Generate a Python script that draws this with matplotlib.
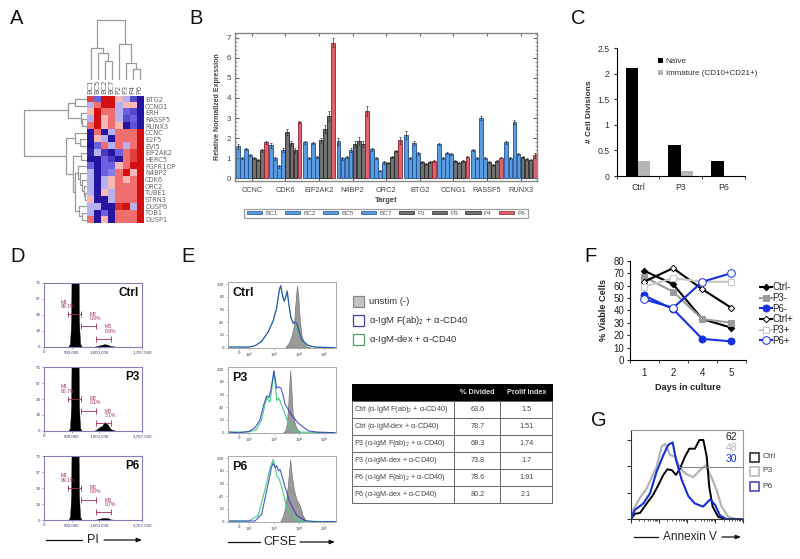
import matplotlib
matplotlib.use("Agg")
import matplotlib.pyplot as plt
from matplotlib.colors import LinearSegmentedColormap
from matplotlib.patches import Patch, Rectangle

plt.rcParams['font.family'] = ['Liberation Sans', 'DejaVu Sans']
plt.rcParams['mathtext.default'] = 'regular'
plt.rcParams['axes.unicode_minus'] = False

W, H = 800, 559

# ---------- Panel A data
heat_cols = ['BC1', 'BC5', 'BC2', 'BC7', 'P2', 'P3', 'P4', 'P6']
heat_rows = ['BTG2', 'CCNG1', 'ERH', 'RASSF5', 'RUNX3', 'CCNC', 'E2F5', 'EVI5', 'EIF2AK2', 'HERC5',
             'FGFR1OP', 'N4BP2', 'CDK6', 'ORC2', 'TUBE1', 'STRN3', 'DUSP6', 'TOB1', 'DUSP1']
heat_vals = [
    [1.5, -1.0, 2, 2, .5, -.5, -1.3, -2],
    [-.5, 1, 2, 2, -.5, .5, .5, -2],
    [.5, 2, 1, 1, -.5, -1, -1.3, -2],
    [-.5, 2, .5, 1, -.5, -1.3, -1, -2],
    [1, 2, .5, 1, .5, -2, -1.2, -2],
    [-2, 1, -2, -.5, 1, 1, 1, 2],
    [-2, .5, -.5, -2, 1, 1, 1, 2],
    [-2, -1, 1, -.5, 1, -.5, 1, 2],
    [-1.8, -.5, -1.5, -2, -1, 1, 1.5, 2],
    [-2, -2, -1, -1.5, -2, 1, 1.5, 2],
    [-1, -2, -1, -1, .5, 1, 2, 2],
    [-.5, -2, -1, -.8, 1, 2, .5, 2],
    [-.5, -2, -.5, .5, 1, .5, 1, 2],
    [-.5, -2, -.5, .5, 1, 1, 1, 2],
    [-.5, -2, .5, -.5, 1, 1, 1, 2],
    [.5, -2, -2, -.5, 1, 1, 1, 2],
    [-.5, -.5, -2, -2, 1.7, 2, -.5, 2],
    [-.5, -2, -1, -2, 1, 1, 1, 2],
    [1, -2, .5, -2, 1, 1, 1, 2],
]
# dendrograms: (height, left, right), leaves are indices
col_tree = (60, (32, 0, (27, 1, (19, 2, 3))), (36, 4, (17, 5, (11, 6, 7))))
row_tree = (63,
            (19, (12, 0, 1), (6, 2, (5, 3, 4))),
            (21, (12, 5, (7, 6, 7)),
             (14, (6, 8, 9),
              (12, (9, 10, (7, 11, (5, 12, (3, 13, (2, 14, 15))))),
               (8, 16, (5, 17, 18))))))

# ---------- Panel B data
targets = ['CCNC', 'CDK6', 'EIF2AK2', 'N4BP2', 'ORC2', 'BTG2', 'CCNG1', 'RASSF5', 'RUNX3']
samples = ['BC1', 'BC2', 'BC5', 'BC7', 'P1', 'P3', 'P4', 'P6']
expr = [
    [1.6, 1.0, 1.45, 1.15, 1.0, .9, 1.4, 1.8],
    [1.65, 1.0, .6, 1.4, 2.3, 1.75, 1.4, 2.8],
    [1.8, 1.0, 1.78, 1.05, 1.9, 2.45, 3.1, 6.75],
    [1.85, 1.0, 1.05, 1.4, 1.7, 1.85, 1.7, 3.35],
    [1.45, 1.0, .38, .8, .78, 1.05, 1.35, 1.9],
    [2.15, 1.0, 1.75, 1.25, .82, .7, .8, .85],
    [1.7, 1.0, 1.25, 1.2, .85, .78, .88, 1.08],
    [1.4, 1.0, 3.0, 1.0, .82, .65, .85, 1.02],
    [1.8, 1.0, 2.8, 1.2, 1.05, .98, .93, 1.15],
]
expr_err = [
    [.12, .05, .06, .05, .05, .05, .08, .08],
    [.12, .07, .07, .1, .15, .12, .12, .06],
    [.08, .05, .05, .05, .12, .18, .25, .22],
    [.17, .07, .05, .1, .15, .2, .15, .25],
    [.08, .05, .03, .07, .05, .06, .06, .18],
    [.18, .06, .1, .07, .05, .04, .05, .04],
    [.06, .05, .05, .05, .04, .04, .05, .03],
    [.06, .05, .12, .05, .05, .04, .05, .03],
    [.08, .05, .1, .06, .05, .05, .04, .12],
]

# ---------- Panel C data
c_groups = ['Ctrl', 'P3', 'P6']
c_naive = [2.1, 0.6, 0.3]
c_immature = [0.3, 0.1, 0.0]

# ---------- Panel D data
d_names = ['Ctrl', 'P3', 'P6']
d_x = [0, 440e3, 470e3, 490e3, 500e3, 620e3, 630e3, 650e3, 680e3, 900e3, 960e3, 1000e3, 1050e3, 1090e3, 1150e3, 1200e3,
       1300e3, 1767550]
d_hist = [
    [0, 0, 5, 40, 150, 150, 40, 5, 0, 0, 1, 2, 3, 4, 3, 1, 0, 0],
    [0, 0, 5, 40, 150, 150, 40, 5, 0, 0, 3, 6, 8, 14, 10, 3, 0, 0],
    [0, 0, 5, 40, 150, 150, 40, 5, 0, 0, 1, 2, 3, 3, 3, 1, 0, 0],
]
d_gates = {'M1': (424e3, 675e3), 'M2': (675e3, 943e3), 'M3': (943e3, 1212e3)}
d_gate_y = [50.5, 32, 12]
d_pct = [['99.1%', '0.0%', '0.9%'], ['96.7%', '0.1%', '3.1%'], ['99.1%', '0.0%', '0.7%']]
d_xticks = [0, 500000, 1000000, 1767550]
d_xlabels = ['0', '500,000', '1,000,000', '1,767,550']
d_yticks = [0, 25, 50, 75, 100]
d_ylabels = ['0', '19', '38', '57', '76']

# ---------- Panel E data
e_names = ['Ctrl', 'P3', 'P6']
e_grey_x = [[3.45, 3.6, 3.7, 3.8, 3.87, 3.92, 3.97, 4.03, 4.1, 4.2, 4.3, 4.5],
            [3.35, 3.45, 3.52, 3.58, 3.65, 3.7, 3.75, 3.85, 3.95, 4.1],
            [3.25, 3.35, 3.45, 3.55, 3.65, 3.72, 3.8, 3.9, 4.04, 4.15, 4.3]]
e_grey_y = [[0, 8, 18, 35, 75, 97, 82, 45, 20, 8, 2, 0],
            [0, 3, 15, 50, 98, 65, 30, 12, 4, 0],
            [0, 8, 22, 55, 98, 70, 50, 35, 25, 10, 0]]
e_blue_x = [[1.2, 2.0, 2.24, 2.51, 2.77, 2.97, 3.11, 3.22, 3.28, 3.35, 3.41, 3.47, 3.53, 3.6, 3.68, 3.76, 3.84, 3.92, 3.97, 4.11, 4.37, 4.64, 5.44],
            [1.2, 1.6, 2.0, 2.24, 2.44, 2.6, 2.71, 2.8, 2.88, 3.0, 3.11, 3.2, 3.28, 3.36, 3.44, 3.7, 3.97, 4.37, 4.7, 5.44],
            [1.2, 2.0, 2.24, 2.51, 2.77, 2.9, 2.97, 3.05, 3.11, 3.18, 3.24, 3.3, 3.44, 3.64, 3.91, 4.24, 4.6, 5.44]]
e_blue_y = [[1, 1, 3, 10, 25, 42, 62, 92, 98, 80, 74, 80, 88, 68, 48, 38, 40, 38, 30, 12, 4, 1, 0],
            [1, 0, 2, 8, 20, 45, 58, 55, 68, 97, 70, 72, 70, 60, 45, 28, 15, 3, 1, 0],
            [1, 1, 1, 12, 60, 85, 92, 85, 88, 80, 82, 75, 55, 30, 10, 2, 0, 0]]
e_green_x = [[1.2, 2.0, 2.24, 2.51, 2.77, 2.97, 3.11, 3.2, 3.25, 3.3, 3.41, 3.47, 3.53, 3.6, 3.68, 3.84, 3.97, 4.11, 4.37, 4.64, 5.44],
             [1.2, 2.0, 2.3, 2.5, 2.71, 2.84, 2.92, 3.0, 3.11, 3.18, 3.24, 3.44, 3.57, 3.77, 4.0, 5.44],
             [1.2, 2.0, 2.37, 2.64, 2.85, 2.97, 3.05, 3.11, 3.2, 3.31, 3.51, 3.71, 3.98, 5.44]]
e_green_y = [[1, 1, 3, 10, 25, 43, 64, 88, 95, 90, 72, 78, 90, 66, 46, 38, 22, 12, 3, 1, 0],
             [1, 1, 5, 20, 55, 48, 70, 97, 50, 55, 50, 30, 15, 5, 1, 0],
             [1, 1, 10, 50, 85, 98, 85, 72, 68, 55, 22, 8, 1, 0]]
e_xticks = [1.6, 2, 3, 4, 5]
e_xlabels = ['0', '$10^2$', '$10^3$', '$10^4$', '$10^5$']
e_yticks = [0, 20, 40, 60, 80, 100]
e_legend = ['unstim (-)', r'$\alpha$-IgM F(ab)$_2$ + $\alpha$-CD40', r'$\alpha$-IgM-dex + $\alpha$-CD40']

# Table
table_head = ['', '% Divided', 'Prolif Index']
table_rows = [r'Ctrl ($\alpha$-IgM F(ab)$_2$ + $\alpha$-CD40)', r'Ctrl ($\alpha$-IgM-dex + $\alpha$-CD40)',
              r'P3 ($\alpha$-IgM F(ab)$_2$ + $\alpha$-CD40)', r'P3 ($\alpha$-IgM-dex + $\alpha$-CD40)',
              r'P6 ($\alpha$-IgM F(ab)$_2$ + $\alpha$-CD40)', r'P6 ($\alpha$-IgM-dex + $\alpha$-CD40)']
table_div = ['63.6', '78.7', '68.3', '73.8', '78.6', '80.2']
table_pi = ['1.5', '1.51', '1.74', '1.7', '1.91', '2.1']

# ---------- Panel F data
f_days = ['1', '2', '4', '5']
f_ctrl_m = [72, 61, 33, 26]
f_p3_m = [67, 55, 33, 30]
f_p6_m = [52, 41, 17, 15]
f_ctrl_p = [63, 74, 57, 42]
f_p3_p = [59, 66, 63, 63]
f_p6_p = [49, 42, 63, 70]

# ---------- Panel G data
g_ctrl_x = [0, .15, .33, .57, .80, .98, 1.16, 1.30, 1.46, 1.61, 1.75, 1.93, 2.08, 2.28, 2.44, 2.58, 2.70, 2.79, 2.91, 3.11, 3.41, 4]
g_ctrl_y = [0, 7, 8, 20, 31, 43, 56, 63, 62, 56, 64, 79, 89, 89, 100, 100, 79, 41, 16, 3, 0, 0]
g_p3_x = [0, .09, .33, .57, .75, .92, 1.10, 1.22, 1.40, 1.58, 1.73, 1.93, 2.22, 2.46, 2.67, 2.88, 3.05, 3.23, 3.47, 3.76, 4]
g_p3_y = [0, 12, 27, 39, 53, 66, 92, 95, 81, 79, 66, 58, 53, 62, 68, 52, 37, 16, 3, 0, 0]
g_p6_x = [0, .15, .45, .69, .92, 1.16, 1.34, 1.49, 1.61, 1.81, 2.05, 2.28, 2.57, 2.82, 3.0, 3.17, 3.41, 4]
g_p6_y = [0, 12, 20, 33, 60, 81, 94, 97, 75, 50, 29, 20, 16, 25, 18, 5, 0, 0]
g_names = ['Ctrl', 'P3', 'P6']
g_vals = ['62', '48', '30']

fig = plt.figure(figsize=(W / 100, H / 100), dpi=100, facecolor='white')


def axpx(x0, y0, x1, y1, **kw):
    return fig.add_axes([x0 / W, 1 - y1 / H, (x1 - x0) / W, (y1 - y0) / H], **kw)


ov = fig.add_axes([0, 0, 1, 1], zorder=20)
ov.set_xlim(0, W)
ov.set_ylim(H, 0)
ov.axis('off')
ov.patch.set_alpha(0)

for letter, x, y in [('A', 10, 19), ('B', 189, 19), ('C', 571, 18), ('D', 10, 256), ('E', 181, 256), ('F', 584, 256),
                     ('G', 591, 420)]:
    ov.text(x, y, letter, fontsize=14.5, ha='left', va='center', color='#111111')


# ===== A
cmap = LinearSegmentedColormap.from_list('bwr2', ['#2414a0', '#6a60e0', '#ffffff', '#f27070', '#d40f0f'])
axA = axpx(87, 96, 143, 223)
axA.imshow(heat_vals, cmap=cmap, vmin=-2, vmax=2, aspect='auto', interpolation='nearest')
axA.set_xticks(range(len(heat_cols)))
axA.set_xticklabels(heat_cols, rotation=90, fontsize=5.3, color='#666666', family='DejaVu Sans')
axA.set_yticks(range(len(heat_rows)))
axA.set_yticklabels(heat_rows, fontsize=4.8, color='#666666', family='DejaVu Sans')
axA.xaxis.tick_top()
axA.yaxis.tick_right()
axA.tick_params(length=0, pad=1.5)
for s in axA.spines.values():
    s.set_visible(False)

axTop = axpx(87, 18, 143, 80)
axTop.set_xlim(-.5, 7.5)
axTop.set_ylim(0, 62)
axTop.axis('off')
axLeft = axpx(22, 96, 87, 223)
axLeft.set_xlim(65, 0)
axLeft.set_ylim(18.5, -.5)
axLeft.axis('off')


def draw_tree(node, ax, vertical):
    if isinstance(node, int):
        return node, 0
    h, a, b = node
    pa, ha = draw_tree(a, ax, vertical)
    pb, hb = draw_tree(b, ax, vertical)
    xs, ys = [pa, pa, pb, pb], [ha, h, h, hb]
    if vertical:
        ax.plot(xs, ys, color='#9a9a9a', lw=.9, solid_capstyle='butt')
    else:
        ax.plot(ys, xs, color='#9a9a9a', lw=.9, solid_capstyle='butt')
    return (pa + pb) / 2, h


draw_tree(col_tree, axTop, True)
draw_tree(row_tree, axLeft, False)

# ===== B
axB = axpx(235, 32.7, 537.3, 181)
bar_w = .96 / 8
face = ['#5b9bdf'] * 4 + ['#727272'] * 3 + ['#e2626c']
edge = ['#1d4f90'] * 4 + ['#222222'] * 3 + ['#8a2432']
for g, (vals, errs) in enumerate(zip(expr, expr_err)):
    for j, (v, e) in enumerate(zip(vals, errs)):
        xp = g + .02 + bar_w * (j + .5)
        axB.bar(xp, v, bar_w * .95, color=face[j], edgecolor=edge[j], lw=.6)
        axB.errorbar(xp, v, yerr=e, color='#333333', lw=.5, capsize=1, capthick=.5)
axB.set_xlim(0, 9)
axB.set_ylim(-.13, 7.24)
axB.set_xticks([i + .5 for i in range(9)])
axB.set_xticklabels(targets, fontsize=5.3, color='#444444')
axB.set_yticks(range(8))
axB.set_yticks([i / 5 for i in range(37)], minor=True)
axB.tick_params(axis='y', which='major', labelsize=5.8, labelcolor='#444444', length=3, direction='in', right=True,
                color='#666666', pad=3)
axB.tick_params(axis='y', which='minor', length=1.5, direction='in', right=True, color='#888888')
axB.tick_params(axis='x', length=2.5, direction='in', top=True, color='#666666', pad=4)
for s in axB.spines.values():
    s.set_color('#888888')
    s.set_linewidth(1)
axB.set_xlabel('Target', fontsize=5.5, fontweight='bold', color='#444444', labelpad=2.5)
axB.set_ylabel('Relative Normalized Expression', fontsize=5, fontweight='bold', color='#444444', labelpad=4)
handles = [Patch(facecolor=face[j], edgecolor=edge[j], lw=.5, label=samples[j]) for j in range(8)]
leg = axB.legend(handles=handles, ncol=8, fontsize=4.6, loc='center', bbox_to_anchor=(386, 213.5),
                 bbox_transform=ov.transData, frameon=True, fancybox=False, edgecolor='#888888', borderpad=.35,
                 handlelength=2.4, handleheight=.45, columnspacing=1.1, handletextpad=.5, labelcolor='#555555')
leg.get_frame().set_linewidth(.9)

# ===== C
axC = axpx(616.7, 48, 745, 176)
cx = range(len(c_groups))
bw = .29
axC.bar([i - bw / 2 for i in cx], c_naive, bw, color='black', label='Naïve')
axC.bar([i + bw / 2 for i in cx], c_immature, bw, color='#b5b5b5', label='Immature (CD10+CD21+)')
axC.set_xlim(-.5, 2.5)
axC.set_ylim(0, 2.5)
axC.set_xticks(list(cx))
axC.set_xticklabels(c_groups, fontsize=6.3, color='#333333')
axC.set_xticks([-.5, .5, 1.5, 2.5], minor=True)
axC.tick_params(axis='x', which='major', length=0, pad=5)
axC.tick_params(axis='x', which='minor', length=2, direction='out', color='#222222')
axC.set_yticks([0, .5, 1, 1.5, 2, 2.5])
axC.set_yticklabels(['0', '0.5', '1', '1.5', '2', '2.5'], fontsize=6.3, color='#333333')
axC.tick_params(axis='y', length=2, color='#222222', pad=3)
axC.spines[['top', 'right']].set_visible(False)
axC.set_ylabel('# Cell Divisions', fontsize=6, fontweight='bold', color='#333333', labelpad=3)
axC.legend(fontsize=5.8, loc='upper left', bbox_to_anchor=(654, 53.5), bbox_transform=ov.transData, frameon=False,
           borderpad=0, handlelength=.65, handleheight=.65, handletextpad=.3, labelspacing=.6, labelcolor='#333333')

# ===== D
d_tops = [282.7, 367, 456]
frame = '#8080b8'
for i, top in enumerate(d_tops):
    ax = axpx(44, top, 142, top + 64)
    ax.fill_between(d_x, d_hist[i], 0, color='black', lw=.3)
    ax.set_xlim(0, 1767550)
    ax.set_ylim(0, 100)
    ax.set_xticks(d_xticks)
    ax.set_xticklabels(d_xlabels, fontsize=3.2, color='#3a3a70')
    ax.set_yticks(d_yticks)
    ax.set_yticklabels(d_ylabels, fontsize=3.2, color='#3a3a70')
    ax.tick_params(length=1.5, width=.5, color=frame, pad=1)
    for s in ax.spines.values():
        s.set_color(frame)
        s.set_linewidth(.8)
    for k, (gate, yg) in enumerate(zip(d_gates, d_gate_y)):
        x0, x1 = d_gates[gate]
        ax.plot([x0, x1], [yg, yg], color='#a03050', lw=.6, marker='|', ms=4, mew=.6, clip_on=False)
        tx = x0 - (130e3 if k == 0 else -150e3)
        ax.text(tx, yg + 8, f'{gate}\n{d_pct[i][k]}', fontsize=3.6, color='#a03050', ha='left', va='bottom',
                linespacing=.9)
    ax.text(.97, .93, d_names[i], transform=ax.transAxes, fontsize=8.5, fontweight='bold', ha='right', va='top',
            color='#111111')

# ===== E
e_tops = [281.7, 366.7, 455.7]
for i, top in enumerate(e_tops):
    ax = axpx(227.7, top, 335.7, top + 66)
    ax.fill_between(e_grey_x[i], e_grey_y[i], 0, color='#9a9a9a', lw=.5, edgecolor='#777777')
    ax.plot(e_green_x[i], e_green_y[i], color='#40d080', lw=.8)
    ax.plot(e_blue_x[i], e_blue_y[i], color='#3038c0', lw=.8, alpha=.85)
    ax.set_xlim(1.15, 5.47)
    ax.set_ylim(0, 103.7)
    ax.set_xticks(e_xticks)
    ax.set_xticklabels(e_xlabels, fontsize=3.2, color='#444444')
    ax.set_yticks(e_yticks)
    ax.set_yticklabels([str(t) for t in e_yticks], fontsize=3.2, color='#444444')
    ax.tick_params(length=1.5, width=.4, color='#888888', pad=1)
    for s in ax.spines.values():
        s.set_color('#aaaaaa')
        s.set_linewidth(.7)
    ax.text(.04, .92, e_names[i], transform=ax.transAxes, fontsize=9, fontweight='bold', ha='left', va='top',
            color='#111111')

for y, txt, fc, ec in zip([296, 315, 334], e_legend, ['#c4c4c4', 'none', 'none'], ['#888888', '#3a3aa8', '#50a060']):
    ov.add_patch(Rectangle((352.5, y), 11, 11, facecolor=fc, edgecolor=ec, lw=.9))
    ov.text(369, y + 5.5, txt, fontsize=6.8, va='center', color='#333333')

axT = axpx(352, 384.3, 552, 503.3)
axT.axis('off')
cells = [table_head] + [[a, b, c] for a, b, c in zip(table_rows, table_div, table_pi)]
tb = axT.table(cellText=cells, colWidths=[.512, .23, .258], bbox=[0, 0, 1, 1], cellLoc='center')
tb.auto_set_font_size(False)
tb.set_fontsize(5.2)
for (r, c), cell in tb.get_celld().items():
    cell.set_edgecolor('#666666')
    cell.set_linewidth(.7)
    cell.get_text().set_color('#444444')
    if r == 0:
        cell.set_facecolor('black')
        cell.set_edgecolor('black')
        cell.get_text().set_color('#dddddd')
        cell.get_text().set_fontweight('bold')
    if c == 0 and r > 0:
        cell.get_text().set_ha('left')
        cell.PAD = .02

# ===== F
axF = axpx(630, 260.7, 746, 360)
fx = list(range(4))
f_series = [
    ('Ctrl-', f_ctrl_m, 'black', 'D', 'black', 3.3),
    ('P3-', f_p3_m, '#9a9a9a', 's', '#9a9a9a', 4),
    ('P6-', f_p6_m, '#1530e0', 'o', '#1530e0', 5),
    ('Ctrl+', f_ctrl_p, 'black', 'D', 'white', 3.3),
    ('P3+', f_p3_p, '#c8c8c8', 's', 'white', 5),
    ('P6+', f_p6_p, '#1530e0', 'o', 'white', 5.5),
]
for name, vals, col, mk, mfc, ms in f_series:
    axF.plot(fx, vals, color=col, lw=1.5, marker=mk, mfc=mfc, mec=col, ms=ms, mew=.7, label=name)
axF.set_xlim(-.48, 3.5)
axF.set_ylim(0, 80)
axF.set_xticks(fx)
axF.set_xticklabels(f_days, fontsize=7, color='#222222')
axF.set_xticks([-.48, .5, 1.5, 2.5, 3.5], minor=True)
axF.tick_params(axis='x', which='major', length=0, pad=6)
axF.tick_params(axis='x', which='minor', length=2, color='#222222')
axF.set_yticks(range(0, 81, 10))
axF.tick_params(axis='y', labelsize=7, length=2, color='#222222', pad=2, labelcolor='#222222')
axF.spines[['top', 'right']].set_visible(False)
axF.set_xlabel('Days in culture', fontsize=6.6, fontweight='bold', color='#222222', labelpad=3)
axF.set_ylabel('% Viable Cells', fontsize=6.6, fontweight='bold', color='#222222', labelpad=4)
axF.legend(fontsize=7, loc='upper left', bbox_to_anchor=(755, 277.5), bbox_transform=ov.transData, frameon=False,
           borderpad=0, handlelength=1.2, handletextpad=.1, labelspacing=.07, labelcolor='#222222')

# ===== G
axG = axpx(630.7, 430, 743.3, 519.3)
axG.plot(g_p3_x, g_p3_y, color='#b4b4b4', lw=1.6)
axG.plot(g_ctrl_x, g_ctrl_y, color='black', lw=1.4)
axG.plot(g_p6_x, g_p6_y, color='#1530d0', lw=1.5)
axG.hlines(66.5, 1.7, 4, color='#888888', lw=.8)
axG.set_xlim(0, 4)
axG.set_ylim(0, 112.6)
axG.set_xticks(range(5))
axG.set_xticklabels([])
axG.set_xticks([d + m for d in range(4) for m in (.3, .48, .6, .7, .78, .85, .9, .95)], minor=True)
axG.set_yticks([0, 33.3, 66.6, 100])
axG.set_yticklabels([])
axG.tick_params(axis='both', which='major', length=3, color='#333333')
axG.tick_params(axis='x', which='minor', length=1.5, color='#333333')
axG.spines[['top', 'right']].set_color('#999999')
axG.spines[['left', 'bottom']].set_color('#333333')
for v, col, y in zip(g_vals, ['#222222', '#b4b4b4', '#1530d0'], [436.7, 447.7, 458.7]):
    ov.text(737, y, v, fontsize=7.5, ha='right', va='center', color=col)
for n, col, y in zip(g_names, ['#222222', '#b4b4b4', '#3a3ab8'], [457, 471, 486]):
    ov.add_patch(Rectangle((750, y - 4.5), 9, 9, facecolor='none', edgecolor=col, lw=1.1))
    ov.text(762.5, y, n, fontsize=6, va='center', color='#444444')


# ===== arrows under panels
def axis_arrow(x0, x1, x2, x3, y, label, size):
    ov.plot([x0, x1], [y, y], color='#111111', lw=.9)
    ov.annotate('', xy=(x3, y), xytext=(x2, y), arrowprops=dict(arrowstyle='-|>,head_width=.12,head_length=.3',
                                                                color='#111111', lw=.9, shrinkA=0, shrinkB=0))
    ov.text((x1 + x2) / 2, y, label, fontsize=size, ha='center', va='center', color='#222222')


axis_arrow(46, 82, 104, 142, 540, 'PI', 9)
axis_arrow(228, 260, 300, 335, 542, 'CFSE', 9)
axis_arrow(634, 658, 722, 741, 537, 'Annexin V', 8.5)

fig.savefig('out.png', dpi=100)
